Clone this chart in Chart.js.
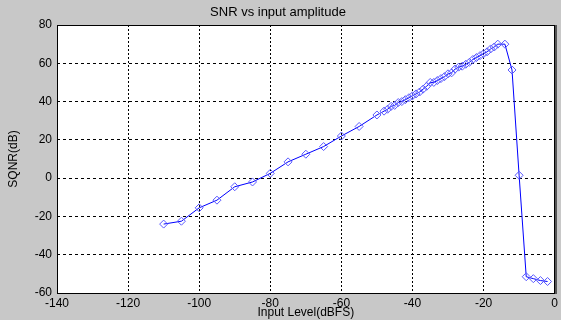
<!DOCTYPE html>
<html>
<head>
<meta charset="utf-8">
<script src="https://cdn.jsdelivr.net/npm/chart.js@4"></script>
<style>
html,body{margin:0;padding:0;background:#c8c8c8;}
#c{display:block;}
</style>
</head>
<body>
<canvas id="c" width="561" height="320"></canvas>
<script>
const inputLevel = [-110,-105,-100,-95,-90,-85,-80,-75,-70,-65,-60,-55,-50,-48,-47,-46,-45,-44,-43,-42,-41,-40,-39,-38,-37,-36,-35,-34,-33,-32,-31,-30,-29,-28,-27,-26,-25,-24,-23,-22,-21,-20,-19,-18,-17,-16,-14,-12,-10,-8,-6,-4,-2];
const sqnr = [-24,-22.5,-15.5,-11.5,-4.5,-2,2.5,8.5,12.5,16.5,22,27,33,35,36,37.5,38,39.5,40,41,42,43,44,45,46.5,48,50,50,51,52,53,54.5,55,57,58,58.5,59.5,60.5,62,63,64,65,66,67.5,68.5,70,70,56.5,1.5,-51.5,-52.5,-53.5,-54];
const xTicks = [-140,-120,-100,-80,-60,-40,-20,0];
const yTicks = [-60,-40,-20,0,20,40,60,80];

const points = inputLevel.map((x,i)=>({x:x,y:sqnr[i]}));

const boxPlugin = {
  id:'box',
  beforeDraw(chart){
    const {ctx, chartArea:a} = chart;
    ctx.save();
    ctx.fillStyle = '#ffffff';
    ctx.fillRect(a.left, a.top, a.right-a.left, a.bottom-a.top);
    ctx.restore();
  },
  afterDraw(chart){
    const {ctx, chartArea:a} = chart;
    ctx.save();
    ctx.strokeStyle = '#000';
    ctx.lineWidth = 1;
    ctx.strokeRect(Math.round(a.left)+0.5, Math.round(a.top)+0.5, Math.round(a.right-a.left)-1, Math.round(a.bottom-a.top));
    ctx.strokeStyle = '#555';
    ctx.lineWidth = 2;
    ctx.beginPath();
    ctx.moveTo(Math.round(a.right)+1, a.top);
    ctx.lineTo(Math.round(a.right)+1, a.bottom+1);
    ctx.stroke();
    ctx.restore();
  }
};

const F = 'Liberation Sans, Arial';

new Chart(document.getElementById('c'), {
  type:'scatter',
  data:{
    datasets:[{
      data: points,
      showLine:true,
      borderColor:'#0000ff',
      borderWidth:1,
      tension:0,
      pointStyle:'rectRot',
      pointRadius:4,
      pointBorderColor:'#5a5aff',
      pointBackgroundColor:'rgba(0,0,0,0)',
      pointBorderWidth:1
    }]
  },
  options:{
    responsive:false,
    animation:false,
    layout:{padding:{left:0,right:5,top:0,bottom:0}},
    plugins:{
      legend:{display:false},
      tooltip:{enabled:false},
      title:{
        display:true,
        text:'SNR vs input amplitude',
        color:'#000',
        font:{family:F,size:13,weight:'normal'},
        padding:{top:5,bottom:4.4}
      }
    },
    scales:{
      x:{
        type:'linear',
        min:-140,max:0,
        afterBuildTicks(s){ s.ticks = xTicks.map(v=>({value:v})); },
        afterFit(s){ s.height = 27; },
        grid:{color:'#000',lineWidth:1,drawTicks:false},
        border:{display:false,dash:[2,2]},
        ticks:{color:'#000',font:{family:F,size:12},padding:3,maxRotation:0},
        title:{display:true,text:'Input Level(dBFS)',color:'#000',font:{family:F,size:12},padding:{top:0,bottom:0}}
      },
      y:{
        type:'linear',
        min:-60,max:80,
        afterBuildTicks(s){ s.ticks = yTicks.map(v=>({value:v})); },
        afterFit(s){ s.width = 57; },
        grid:{color:'#000',lineWidth:1,drawTicks:false},
        border:{display:false,dash:[3,3]},
        ticks:{color:'#000',font:{family:F,size:12},padding:5},
        title:{display:true,text:'SQNR(dB)',color:'#000',font:{family:F,size:12},padding:{top:6,bottom:0}}
      }
    }
  },
  plugins:[boxPlugin]
});
</script>
</body>
</html>
